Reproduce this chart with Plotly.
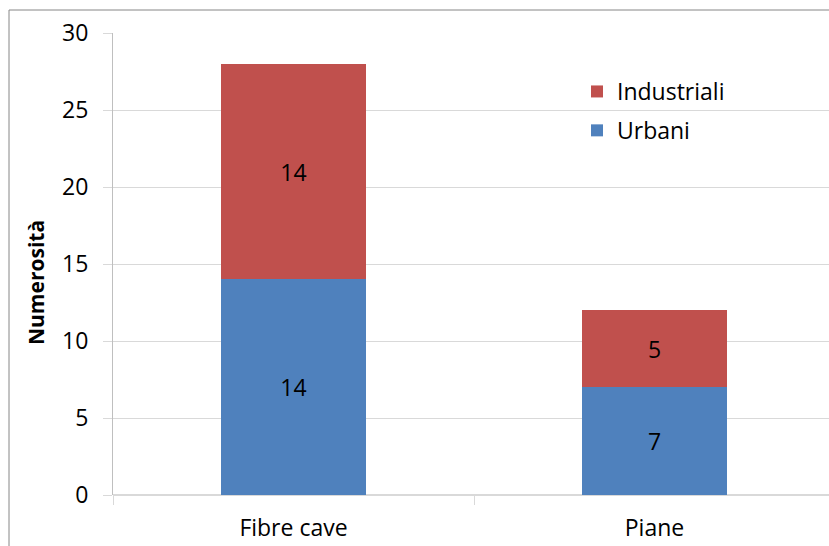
import plotly.graph_objects as go

categories = ["Fibre cave", "Piane"]
urbani = [14, 7]
industriali = [14, 5]
y_ticks = [0, 5, 10, 15, 20, 25, 30]

FONT = "Open Sans"
BLUE = "#4F81BD"
RED = "#C0504D"

W, H = 829, 546
ML, MT, MB = 113, 33, 51
plot_w = W - ML
plot_h = H - MT - MB

fig = go.Figure()
fig.add_trace(go.Bar(
    x=categories, y=urbani, name="Urbani", marker=dict(color=BLUE, line=dict(width=0)),
    text=[str(v) for v in urbani], textposition="inside", insidetextanchor="middle",
    textfont=dict(family=FONT, size=23, color="black"), width=0.4,
    legendgroup="urbani", legendrank=2,
))
fig.add_trace(go.Bar(
    x=categories, y=industriali, name="Industriali", marker=dict(color=RED, line=dict(width=0)),
    text=[str(v) for v in industriali], textposition="inside", insidetextanchor="middle",
    textfont=dict(family=FONT, size=23, color="black"), width=0.4,
    legendgroup="industriali", legendrank=1,
))

# outer chart frame (left and top edges visible)
fx = (9 - ML) / plot_w
fy = 1 + (MT - 10) / plot_h
fig.add_shape(type="rect", xref="paper", yref="paper", x0=fx, y0=-0.5, x1=1.5, y1=fy,
              line=dict(color="#868686", width=1), fillcolor="rgba(0,0,0,0)", layer="below")

# rotated y axis title
fig.add_annotation(text="<b>Numerosità</b>", xref="paper", yref="paper",
                   x=(36 - ML) / plot_w, y=1 - (283 - MT) / plot_h, textangle=-90,
                   xanchor="center", yanchor="middle",
                   showarrow=False, font=dict(family=FONT, size=21, color="black"))

fig.update_layout(
    width=W, height=H, barmode="stack",
    margin=dict(l=ML, r=0, t=MT, b=MB),
    paper_bgcolor="white", plot_bgcolor="white",
    font=dict(family=FONT, size=23, color="black"),
    showlegend=True,
    legend=dict(x=(577 - ML) / plot_w, y=1 - (70 - MT) / plot_h, xanchor="left", yanchor="top",
                traceorder="grouped", tracegroupgap=6,
                font=dict(family=FONT, size=23, color="black"), bgcolor="rgba(0,0,0,0)"),
    xaxis=dict(range=[-0.5, -0.5 + plot_w / 361], showgrid=False, showline=False,
               ticks="outside", tickson="boundaries", ticklen=9, tickcolor="#d9d9d9",
               ticklabelstandoff=17,
               tickfont=dict(family=FONT, size=23, color="black")),
    yaxis=dict(range=[0, 30], tickvals=y_ticks, showgrid=True, gridcolor="#d9d9d9", gridwidth=1,
               showline=True, linecolor="#bfbfbf", ticks="outside", ticklen=9, tickcolor="#d9d9d9",
               ticklabelstandoff=10,
               zeroline=True, zerolinecolor="#d9d9d9", zerolinewidth=2,
               tickfont=dict(family=FONT, size=23, color="black")),
)

fig.write_html("out.html")
